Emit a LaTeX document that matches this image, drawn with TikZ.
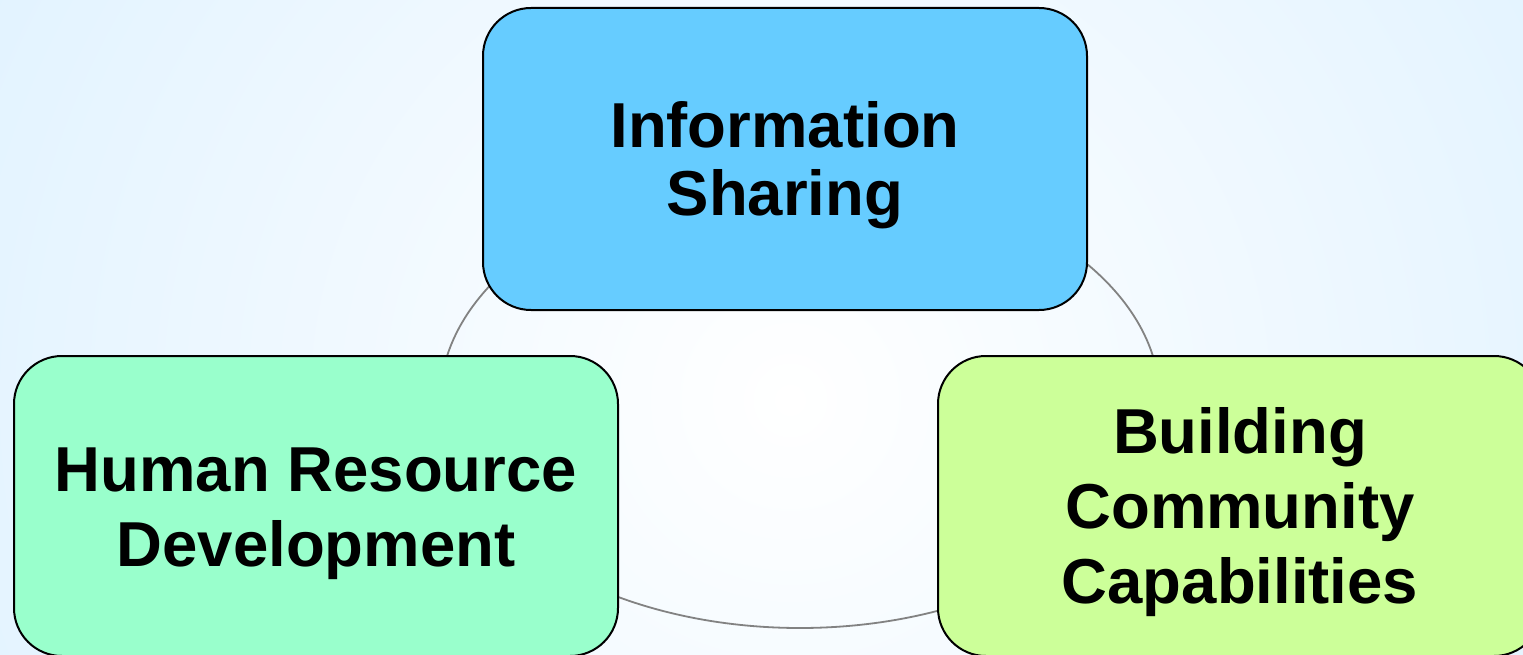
\documentclass[tikz,border=0pt]{standalone}
\usepackage{fontspec}
\setmainfont{Liberation Sans}
\definecolor{bgblue}{RGB}{205,234,255}
\definecolor{boxblue}{RGB}{102,204,255}
\definecolor{boxgreen}{RGB}{153,255,204}
\definecolor{boxlime}{RGB}{204,255,153}
\definecolor{arcgray}{RGB}{130,130,130}
\newcommand\topstrut{\rule{0pt}{59.5pt}}
\newcommand\botstrut{\rule[-14pt]{0pt}{14pt}}
\begin{document}
\begin{tikzpicture}[x=1pt,y=-1pt,
  box/.style={draw=black, line width=2pt, rounded corners=48pt,
    minimum width=604pt, minimum height=300pt, align=center, inner sep=0pt,
    font=\bfseries\fontsize{63.5}{75}\selectfont},
  cyclearc/.style={draw=arcgray, line width=1.8pt}]
\useasboundingbox (0,0) rectangle (1523,655);
\begin{scope}
\clip (0,0) rectangle (1523,655);
\shade[inner color=white, outer color=bgblue] (790,400) circle (1550pt);
\coordinate (c) at (800,401);
\draw[cyclearc] (c) ellipse [x radius=360, y radius=227];
\node[box, fill=boxblue, minimum height=302pt,
  font=\bfseries\fontsize{63.5}{68}\selectfont] (info) at (785,159)
  {\topstrut Information\\Sharing\botstrut};
\node[box, fill=boxgreen] (hrd) at (316,506)
  {\topstrut Human Resource\\Development\botstrut};
\node[box, fill=boxlime] (bcc) at (1240,506)
  {\topstrut Building\\Community\\Capabilities\botstrut};
\end{scope}
\end{tikzpicture}
\end{document}
